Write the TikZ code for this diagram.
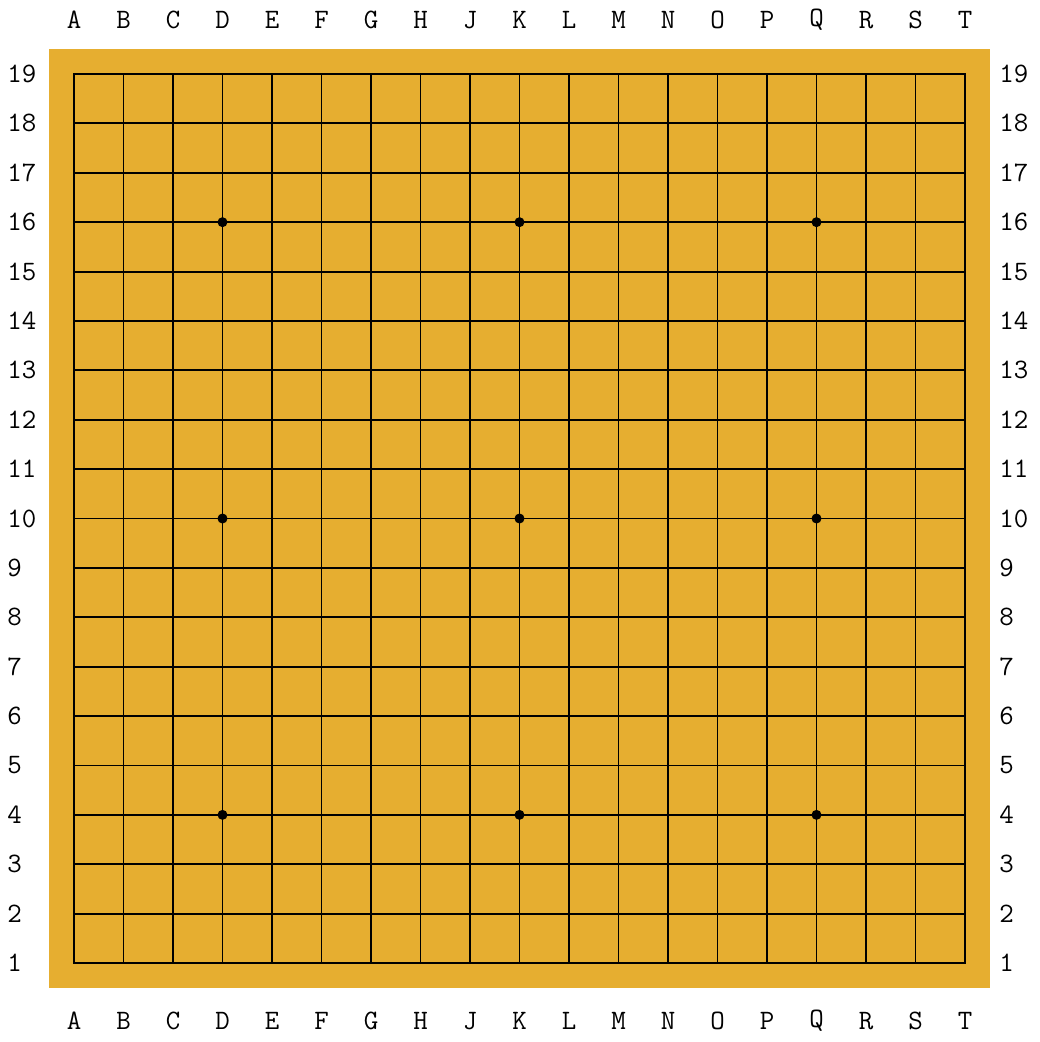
\documentclass[tikz,border=0pt]{standalone}
\usepackage{tikz}
\definecolor{BoardWood}{RGB}{230,174,48}
\tikzset{
  board/.style={fill=BoardWood,draw=none},
  gridline/.style={draw=black,line width=1.1pt},
  starpoint/.style={circle,fill=black,inner sep=0pt,minimum size=0.2cm},
  coordlabel/.style={font=\fontsize{16}{16}\selectfont\ttfamily,inner sep=0pt}
}

\begin{document}
\begin{tikzpicture}[x=0.02cm,y=-0.02cm]
  \useasboundingbox (0,0) rectangle (1039,1042);
  % Board background
  \fill[board] (49,49) rectangle (990,988);

  % Grid lines
  \foreach \i in {0,...,18}{
    \draw[gridline] (74+\i*49.5,74) -- (74+\i*49.5,963);
    \draw[gridline] (74,74+\i*49.39) -- (965,74+\i*49.39);
  }
  \draw[gridline] (74,74) rectangle (965,963);

  % Star points
  \foreach \c in {3,9,15}{
    \foreach \r in {3,9,15}{
      \node[starpoint] (star-\c-\r) at (74+\c*49.5,74+\r*49.39) {};
    }
  }

  % Column letters (top and bottom)
  \foreach \l [count=\c from 0] in {A,B,C,D,E,F,G,H,J,K,L,M,N,O,P,Q,R,S,T}{
    \node[coordlabel] (top-\l) at (74+\c*49.5,20) {\l};
    \node[coordlabel] (bot-\l) at (74+\c*49.5,1021) {\l};
  }

  % Row numbers (left and right)
  \foreach \n [count=\r from 0] in {19,18,...,1}{
    \node[coordlabel,anchor=west] (left-\n) at (7,74+\r*49.39) {\n};
    \node[coordlabel,anchor=west] (right-\n) at (999,74+\r*49.39) {\n};
  }
\end{tikzpicture}
\end{document}
